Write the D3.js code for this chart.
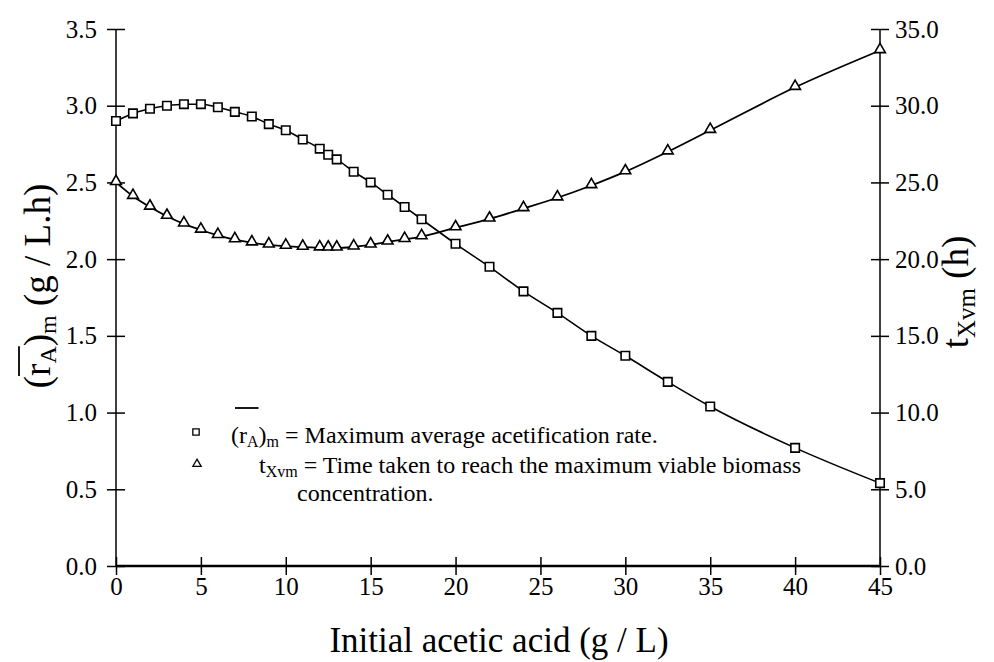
<!DOCTYPE html>
<html>
<head>
<meta charset="utf-8">
<script src="https://cdn.jsdelivr.net/npm/d3@7"></script>
<style>
  body { margin: 0; background: #fff; }
  svg, svg text { font-family: "Liberation Serif", "DejaVu Serif", serif; }
</style>
</head>
<body>
<div id="chart"></div>
<script>
// initial acetic acid (g/L)
var acid = [0, 1, 2, 3, 4, 5, 6, 7, 8, 9, 10, 11, 12, 12.5, 13, 14, 15, 16, 17, 18,
  20, 22, 24, 26, 28, 30, 32.5, 35, 40, 45];
// maximum average acetification rate (g / L.h), left axis
var rate = [2.90, 2.95, 2.98, 3.00, 3.01, 3.01, 2.99, 2.96, 2.93, 2.88, 2.84, 2.78, 2.72, 2.68,
  2.65, 2.57, 2.50, 2.42, 2.34, 2.26, 2.10, 1.95, 1.79, 1.65, 1.50, 1.37, 1.20, 1.04, 0.77, 0.54];
// time to reach maximum viable biomass (h), right axis
var time = [25.0, 24.1, 23.4, 22.8, 22.3, 21.9, 21.55, 21.27, 21.07, 20.93, 20.85, 20.78, 20.74, 20.73,
  20.73, 20.8, 20.93, 21.12, 21.29, 21.47, 22.05, 22.62, 23.3, 24.0, 24.8, 25.7, 27.0, 28.4, 31.2, 33.6];

var xTicks = [0, 5, 10, 15, 20, 25, 30, 35, 40, 45];
var leftTicks = [0, 0.5, 1, 1.5, 2, 2.5, 3, 3.5];
var rightTicks = [0, 5, 10, 15, 20, 25, 30, 35];

var W = 994, H = 662;
var m = { left: 116, right: 114, top: 29, bottom: 96 };
var serif = "'Liberation Serif', 'DejaVu Serif', serif";

var svg = d3.select("#chart").append("svg")
  .attr("width", W)
  .attr("height", H);

var x = d3.scaleLinear().domain([0, 45]).range([m.left, W - m.right]);
var yL = d3.scaleLinear().domain([0, 3.5]).range([H - m.bottom, m.top]);
var yR = d3.scaleLinear().domain([0, 35]).range([H - m.bottom, m.top]);

// crossing ticks, like the original plot
function crossTicks(g, vertical) {
  g.attr("font-family", serif).attr("font-size", 25);
  g.select(".domain").remove();
  g.selectAll(".tick line").each(function () {
    var l = d3.select(this);
    if (vertical) l.attr("x1", -9).attr("x2", 9);
    else l.attr("y1", -9).attr("y2", 9);
  }).attr("stroke", "#000").attr("stroke-width", 1.5);
  g.selectAll(".tick text").attr("fill", "#000").style("font-family", serif);
}

// bottom axis
svg.append("g")
  .attr("transform", "translate(0," + yL(0) + ")")
  .call(d3.axisBottom(x).tickValues(xTicks).tickSize(9).tickPadding(2).tickFormat(d3.format("d")))
  .call(function (g) { crossTicks(g, false); });

// left axis
svg.append("g")
  .attr("transform", "translate(" + x(0) + ",0)")
  .call(d3.axisLeft(yL).tickValues(leftTicks).tickSize(9).tickPadding(10).tickFormat(d3.format(".1f")))
  .call(function (g) { crossTicks(g, true); });

// right axis
svg.append("g")
  .attr("transform", "translate(" + x(45) + ",0)")
  .call(d3.axisRight(yR).tickValues(rightTicks).tickSize(9).tickPadding(6).tickFormat(d3.format(".1f")))
  .call(function (g) { crossTicks(g, true); });

// axis lines
svg.append("line")
  .attr("x1", x(0)).attr("x2", x(45))
  .attr("y1", yL(0)).attr("y2", yL(0))
  .attr("stroke", "#000").attr("stroke-width", 2.5);
svg.append("line")
  .attr("x1", x(0)).attr("x2", x(0))
  .attr("y1", yL(0)).attr("y2", yL(3.5))
  .attr("stroke", "#000").attr("stroke-width", 1.5);
svg.append("line")
  .attr("x1", x(45)).attr("x2", x(45))
  .attr("y1", yR(0)).attr("y2", yR(35))
  .attr("stroke", "#000").attr("stroke-width", 1.5);

// curves
var rateLine = d3.line()
  .x(function (d, i) { return x(acid[i]); })
  .y(function (d) { return yL(d); })
  .curve(d3.curveMonotoneX);
var timeLine = d3.line()
  .x(function (d, i) { return x(acid[i]); })
  .y(function (d) { return yR(d); })
  .curve(d3.curveMonotoneX);

svg.append("path").attr("d", timeLine(time))
  .attr("fill", "none").attr("stroke", "#000").attr("stroke-width", 1.8);
svg.append("path").attr("d", rateLine(rate))
  .attr("fill", "none").attr("stroke", "#000").attr("stroke-width", 1.6);

var tri = d3.symbol().type(d3.symbolTriangle).size(50);
var sq = d3.symbol().type(d3.symbolSquare).size(72);

svg.append("g").selectAll("path")
  .data(time)
  .enter().append("path")
  .attr("d", tri)
  .attr("transform", function (d, i) { return "translate(" + x(acid[i]) + "," + (yR(d) - 1) + ")"; })
  .attr("fill", "#fff").attr("stroke", "#000").attr("stroke-width", 1.6);

svg.append("g").selectAll("path")
  .data(rate)
  .enter().append("path")
  .attr("d", sq)
  .attr("transform", function (d, i) { return "translate(" + x(acid[i]) + "," + yL(d) + ")"; })
  .attr("fill", "#fff").attr("stroke", "#000").attr("stroke-width", 1.6);

// overbar helper: bar above characters [a, b] of a text element
function overbar(parent, textSel, a, b, lift, pad) {
  var n = textSel.node();
  var p0 = n.getStartPositionOfChar(a), p1 = n.getEndPositionOfChar(b);
  parent.append("line")
    .attr("x1", p0.x - pad).attr("x2", p1.x)
    .attr("y1", p0.y - lift).attr("y2", p0.y - lift)
    .attr("stroke", "#000").attr("stroke-width", 1.8);
}

// axis titles
svg.append("text")
  .attr("x", (x(0) + x(45)) / 2 + 1)
  .attr("y", 652)
  .attr("text-anchor", "middle")
  .attr("font-size", 35)
  .text("Initial acetic acid (g / L)");

var lt = svg.append("g").attr("transform", "translate(50,286) rotate(-90)");
var ltText = lt.append("text").attr("text-anchor", "middle").attr("font-size", 37);
ltText.append("tspan").text("(r");
ltText.append("tspan").attr("font-size", 24).attr("dy", 6).text("A");
ltText.append("tspan").attr("dy", -6).text(")");
ltText.append("tspan").attr("font-size", 24).attr("dy", 6).text("m");
ltText.append("tspan").attr("dy", -6).text(" (g / L.h)");
overbar(lt, ltText, 1, 2, 31, 0);

var rt = svg.append("g").attr("transform", "translate(968,292) rotate(-90)");
var rtText = rt.append("text").attr("text-anchor", "middle").attr("font-size", 37);
rtText.append("tspan").text("t");
rtText.append("tspan").attr("font-size", 25).attr("dy", 7).text("Xvm");
rtText.append("tspan").attr("dy", -7).text(" (h)");

// legend
var lg = svg.append("g");
lg.append("path").attr("d", d3.symbol().type(d3.symbolSquare).size(40))
  .attr("transform", "translate(196,432)")
  .attr("fill", "#fff").attr("stroke", "#000").attr("stroke-width", 1.3);
lg.append("path").attr("d", d3.symbol().type(d3.symbolTriangle).size(30))
  .attr("transform", "translate(197,464)")
  .attr("fill", "#fff").attr("stroke", "#000").attr("stroke-width", 1.3);

var l1 = lg.append("text").attr("x", 231).attr("y", 443).attr("font-size", 24);
l1.append("tspan").text("(r");
l1.append("tspan").attr("font-size", 16).attr("dy", 4).text("A");
l1.append("tspan").attr("dy", -4).text(")");
l1.append("tspan").attr("font-size", 16).attr("dy", 4).text("m");
l1.append("tspan").attr("dy", -4).text("  = Maximum average acetification rate.");
overbar(lg, l1, 1, 2, 35, 4);

var l2 = lg.append("text").attr("x", 259).attr("y", 473).attr("font-size", 24);
l2.append("tspan").text("t");
l2.append("tspan").attr("font-size", 16).attr("dy", 4).text("Xvm");
l2.append("tspan").attr("dy", -4).text(" = Time taken to reach the maximum viable biomass");

lg.append("text").attr("x", 297).attr("y", 501).attr("font-size", 24).text("concentration.");
</script>
</body>
</html>
